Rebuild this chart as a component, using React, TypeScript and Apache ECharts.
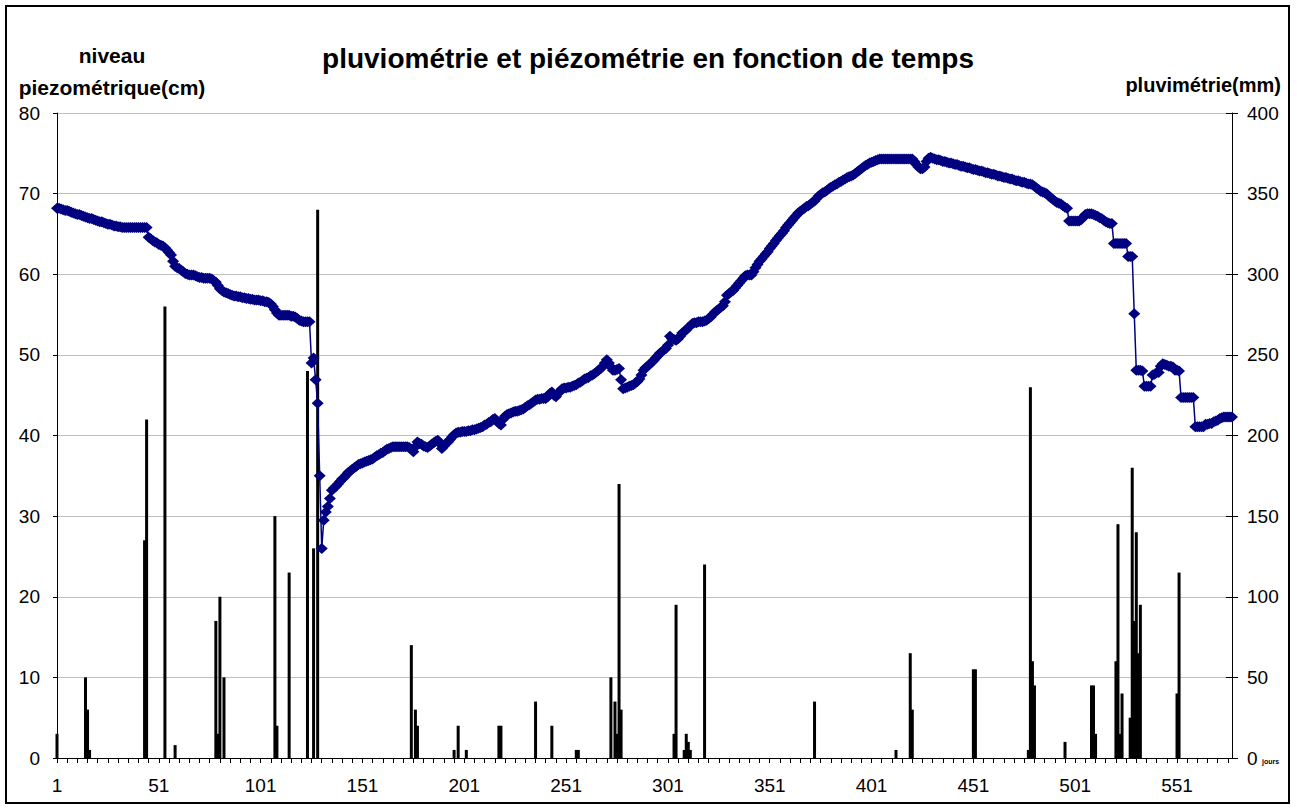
import React, { useEffect, useRef } from "react";
import * as echarts from "echarts";

// niveau piézométrique (cm), one value per day, days 1..578
const level: number[] = [
  68.2, 68.2, 68.1, 68.0, 67.9, 67.9, 67.8, 67.7, 67.6, 67.5,
  67.4, 67.4, 67.3, 67.2, 67.1, 67.0, 66.9, 66.9, 66.8, 66.7,
  66.6, 66.5, 66.5, 66.4, 66.3, 66.2, 66.2, 66.1, 66.0, 66.0,
  65.9, 65.9, 65.8, 65.8, 65.8, 65.8, 65.8, 65.8, 65.8, 65.8,
  65.8, 65.8, 65.8, 65.8, 65.8, 64.6, 64.4, 64.2, 64.0, 63.9,
  63.7, 63.6, 63.5, 63.3, 63.0, 62.7, 62.4, 61.6, 61.0, 60.8,
  60.7, 60.5, 60.3, 60.1, 60.0, 59.9, 59.9, 59.9, 59.8, 59.7,
  59.6, 59.6, 59.5, 59.5, 59.5, 59.5, 59.4, 59.2, 59.0, 58.6,
  58.2, 58.0, 57.8, 57.7, 57.6, 57.5, 57.4, 57.3, 57.3, 57.2,
  57.2, 57.1, 57.1, 57.0, 57.0, 56.9, 56.9, 56.8, 56.8, 56.8,
  56.7, 56.7, 56.6, 56.6, 56.5, 56.3, 56.0, 55.6, 55.2, 54.9,
  54.9, 54.9, 54.9, 54.9, 54.9, 54.8, 54.8, 54.7, 54.5, 54.3,
  54.2, 54.1, 54.1, 54.1, 54.1, 49.0, 49.6, 46.9, 44.0, 35.0,
  26.0, 29.5, 30.5, 31.2, 32.2, 33.2, 33.5, 33.7, 34.0, 34.3,
  34.6, 34.8, 35.1, 35.4, 35.6, 35.8, 36.0, 36.2, 36.4, 36.5,
  36.6, 36.7, 36.8, 36.9, 37.0, 37.1, 37.3, 37.5, 37.6, 37.8,
  37.9, 38.1, 38.3, 38.4, 38.5, 38.6, 38.6, 38.6, 38.6, 38.6,
  38.6, 38.6, 38.6, 38.5, 38.3, 38.0, 38.6, 39.2, 39.0, 38.9,
  38.7, 38.6, 38.5, 38.7, 38.9, 39.1, 39.3, 39.4, 39.0, 38.4,
  38.7, 39.0, 39.2, 39.5, 39.8, 40.1, 40.3, 40.4, 40.4, 40.5,
  40.5, 40.5, 40.6, 40.6, 40.7, 40.7, 40.8, 40.9, 41.0, 41.1,
  41.3, 41.4, 41.6, 41.7, 42.0, 42.1, 41.8, 41.5, 41.3, 42.0,
  42.4, 42.6, 42.7, 42.8, 42.9, 43.0, 43.0, 43.1, 43.2, 43.3,
  43.5, 43.7, 43.8, 44.0, 44.2, 44.4, 44.5, 44.5, 44.6, 44.6,
  44.6, 44.8, 45.2, 45.4, 45.0, 44.8, 45.2, 45.5, 45.8, 45.9,
  45.9, 46.0, 46.0, 46.1, 46.2, 46.3, 46.5, 46.6, 46.8, 47.0,
  47.1, 47.2, 47.4, 47.5, 47.7, 47.9, 48.1, 48.3, 48.6, 49.0,
  49.4, 49.0, 48.5, 48.1, 48.1, 48.2, 48.3, 46.9, 45.8, 45.9,
  46.0, 46.1, 46.2, 46.3, 46.5, 46.7, 47.0, 47.5, 48.1, 48.4,
  48.6, 48.8, 49.1, 49.3, 49.6, 49.9, 50.2, 50.4, 50.6, 50.8,
  51.2, 52.3, 52.0, 51.9, 51.8, 52.0, 52.3, 52.7, 52.9, 53.1,
  53.4, 53.6, 53.9, 54.0, 54.0, 54.1, 54.1, 54.1, 54.2, 54.3,
  54.5, 54.7, 55.0, 55.3, 55.5, 55.7, 55.9, 56.1, 56.6, 57.4,
  57.6, 57.8, 58.0, 58.3, 58.6, 58.9, 59.2, 59.5, 59.8, 59.9,
  59.9, 59.9, 60.3, 60.8, 61.2, 61.6, 61.9, 62.2, 62.5, 62.8,
  63.2, 63.5, 63.8, 64.2, 64.5, 64.8, 65.1, 65.4, 65.8, 66.1,
  66.4, 66.7, 67.0, 67.3, 67.6, 67.8, 68.0, 68.2, 68.4, 68.5,
  68.7, 68.9, 69.1, 69.4, 69.7, 69.9, 70.1, 70.2, 70.4, 70.6,
  70.8, 70.9, 71.1, 71.2, 71.4, 71.5, 71.7, 71.8, 72.0, 72.1,
  72.2, 72.3, 72.5, 72.7, 72.9, 73.1, 73.3, 73.5, 73.6, 73.8,
  73.9, 74.0, 74.1, 74.2, 74.3, 74.3, 74.3, 74.3, 74.3, 74.3,
  74.3, 74.3, 74.3, 74.3, 74.3, 74.3, 74.3, 74.3, 74.3, 74.3,
  74.3, 74.0, 73.6, 73.3, 73.1, 73.1, 73.3, 74.0, 74.4, 74.5,
  74.4, 74.3, 74.2, 74.2, 74.1, 74.0, 74.0, 73.9, 73.8, 73.8,
  73.7, 73.6, 73.6, 73.5, 73.4, 73.4, 73.3, 73.2, 73.2, 73.1,
  73.0, 73.0, 72.9, 72.8, 72.8, 72.7, 72.6, 72.6, 72.5, 72.4,
  72.4, 72.3, 72.2, 72.2, 72.1, 72.0, 72.0, 71.9, 71.8, 71.8,
  71.7, 71.6, 71.6, 71.5, 71.4, 71.4, 71.3, 71.2, 71.2, 71.1,
  70.9, 70.7, 70.5, 70.3, 70.2, 70.1, 70.0, 69.7, 69.5, 69.3,
  69.1, 68.9, 68.8, 68.7, 68.5, 68.3, 68.2, 66.6, 66.6, 66.6,
  66.6, 66.6, 66.6, 66.8, 67.1, 67.4, 67.5, 67.5, 67.5, 67.4,
  67.3, 67.2, 67.0, 66.9, 66.7, 66.5, 66.4, 66.3, 66.3, 63.8,
  63.8, 63.8, 63.8, 63.8, 63.8, 63.8, 62.2, 62.2, 62.2, 55.1,
  48.1, 48.1, 48.1, 48.0, 46.1, 46.1, 46.1, 46.1, 47.5, 47.6,
  47.8, 47.8, 48.6, 48.9, 48.8, 48.7, 48.6, 48.6, 48.5, 48.1,
  48.1, 48.0, 44.7, 44.7, 44.7, 44.7, 44.7, 44.7, 44.7, 41.1,
  41.1, 41.1, 41.1, 41.1, 41.4, 41.4, 41.5, 41.5, 41.7, 41.8,
  41.9, 42.1, 42.2, 42.3, 42.3, 42.3, 42.3, 42.3,
];

// pluviométrie (mm): rainy days and their amounts
const rainDays: number[] = [
  1, 15, 16, 17, 44, 45, 54, 59, 79, 80, 81, 83, 108, 109, 115, 124, 127, 129,
  175, 177, 178, 196, 198, 202, 218, 219, 236, 244, 256, 257, 273, 275, 276,
  277, 278, 304, 305, 309, 310, 311, 312, 319, 373, 413, 420, 421, 451, 452,
  478, 479, 480, 481, 496, 509, 510, 511, 521, 522, 523, 524, 528, 529, 530,
  531, 532, 533, 551, 552,
];
const rainMm: number[] = [
  15, 50, 30, 5, 135, 210, 280, 8, 85, 15, 100, 50, 150, 20, 115, 240, 130, 340,
  70, 30, 20, 5, 20, 5, 20, 20, 35, 20, 5, 5, 50, 35, 15,
  170, 30, 15, 95, 5, 15, 10, 5, 120, 35, 5, 65, 30, 55, 55,
  5, 230, 60, 45, 10, 45, 45, 15, 60, 145, 15, 40, 25, 180, 85,
  140, 65, 95, 40, 115,
];

const FONT = "'Liberation Sans', Arial, sans-serif";

export default function App() {
  const ref = useRef<HTMLDivElement>(null);

  useEffect(() => {
    document.body.style.margin = "0";
    if (!ref.current) return;
    const chart = echarts.init(ref.current, null, { renderer: "svg" });

    const days = level.map((_, i) => String(i + 1));
    const rain: number[] = days.map(() => 0);
    rainDays.forEach((d, i) => {
      rain[d - 1] = rainMm[i];
    });

    const labelStyle = { color: "#000", fontSize: 19, fontFamily: FONT };

    chart.setOption({
      animation: false,
      backgroundColor: "#fff",
      grid: { left: 57, right: 65, top: 113, bottom: 51, containLabel: false },
      graphic: [
        {
          type: "rect",
          shape: { x: 6, y: 6, width: 1283, height: 797 },
          style: { fill: "none", stroke: "#000", lineWidth: 2 },
          silent: true,
        },
        {
          type: "text",
          x: 648,
          y: 58,
          style: {
            text: "pluviométrie et piézométrie en fonction de temps",
            font: `bold 28px ${FONT}`,
            fill: "#000",
            align: "center",
            verticalAlign: "middle",
          },
        },
        {
          type: "text",
          x: 112,
          y: 55,
          style: {
            text: "niveau",
            font: `bold 21px ${FONT}`,
            fill: "#000",
            align: "center",
            verticalAlign: "middle",
          },
        },
        {
          type: "text",
          x: 112,
          y: 87,
          style: {
            text: "piezométrique(cm)",
            font: `bold 21px ${FONT}`,
            fill: "#000",
            align: "center",
            verticalAlign: "middle",
          },
        },
        {
          type: "text",
          x: 1281,
          y: 85,
          style: {
            text: "pluvimétrie(mm)",
            font: `bold 20px ${FONT}`,
            fill: "#000",
            align: "right",
            verticalAlign: "middle",
          },
        },
        {
          type: "text",
          x: 1262,
          y: 761,
          style: {
            text: "jours",
            font: `bold 7px ${FONT}`,
            fill: "#000",
            align: "left",
            verticalAlign: "middle",
          },
        },
      ],
      xAxis: {
        type: "category",
        data: days,
        boundaryGap: false,
        axisLine: { show: true, lineStyle: { color: "#000", width: 1 } },
        axisTick: { show: true, interval: 4, length: 5, lineStyle: { color: "#000" } },
        axisLabel: { ...labelStyle, interval: 49, margin: 18 },
        splitLine: { show: false },
      },
      yAxis: [
        {
          type: "value",
          position: "left",
          min: 0,
          max: 80,
          interval: 10,
          axisLine: { show: true, lineStyle: { color: "#000", width: 1 } },
          axisTick: { show: true, length: 4, lineStyle: { color: "#000" } },
          axisLabel: { ...labelStyle, margin: 17 },
          splitLine: { show: true, lineStyle: { color: "#c0c0c0", width: 1 } },
        },
        {
          type: "value",
          position: "right",
          min: 0,
          max: 400,
          interval: 50,
          axisLine: { show: true, lineStyle: { color: "#000", width: 1 } },
          axisTick: { show: true, length: 6, lineStyle: { color: "#000" } },
          axisLabel: { ...labelStyle, margin: 15 },
          splitLine: { show: false },
        },
        {
          type: "value",
          position: "right",
          min: 0,
          max: 400,
          interval: 50,
          axisLine: { show: false },
          axisTick: { show: true, inside: true, length: 6, lineStyle: { color: "#000" } },
          axisLabel: { show: false },
          splitLine: { show: false },
        },
      ],
      series: [
        {
          name: "pluviométrie",
          type: "bar",
          yAxisIndex: 1,
          data: rain,
          barWidth: 3,
          itemStyle: { color: "#000" },
          z: 2,
        },
        {
          name: "niveau piézométrique",
          type: "line",
          yAxisIndex: 0,
          data: level,
          symbol: "diamond",
          symbolSize: [12, 11],
          showAllSymbol: true,
          lineStyle: { color: "#000080", width: 1.5 },
          itemStyle: { color: "#000080", borderWidth: 0 },
          z: 3,
        },
      ],
    });

    return () => chart.dispose();
  }, []);

  return <div ref={ref} style={{ width: 1297, height: 809 }} />;
}
